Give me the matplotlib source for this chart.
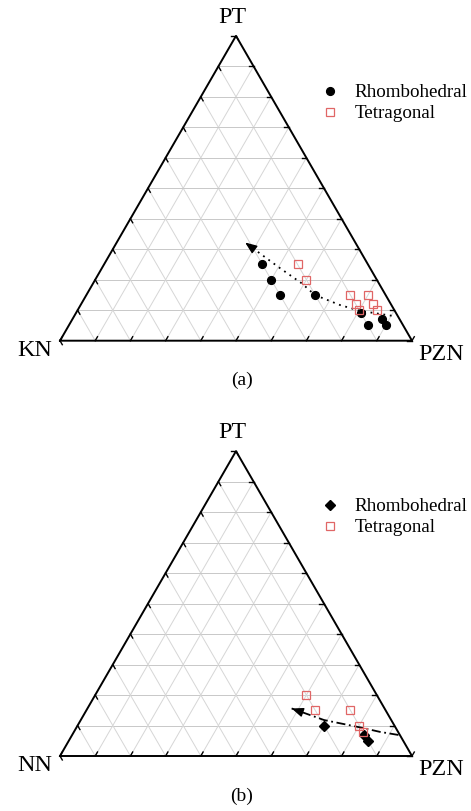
import numpy as np
import matplotlib.pyplot as plt

plt.rcParams['font.family'] = ['Liberation Serif', 'DejaVu Serif']

# ternary data: PT (top) and PZN (right) fractions, remainder is KN / NN
a_rh_pt = [0.25, 0.20, 0.15, 0.15, 0.09, 0.07, 0.05, 0.05]
a_rh_pzn = [0.45, 0.50, 0.55, 0.65, 0.81, 0.88, 0.85, 0.90]
a_te_pt = [0.25, 0.20, 0.15, 0.15, 0.12, 0.12, 0.10, 0.10]
a_te_pzn = [0.55, 0.60, 0.75, 0.80, 0.78, 0.83, 0.80, 0.85]

b_rh_pt = [0.10, 0.07, 0.05]
b_rh_pzn = [0.70, 0.83, 0.85]
b_te_pt = [0.20, 0.15, 0.15, 0.10, 0.08]
b_te_pzn = [0.60, 0.65, 0.75, 0.80, 0.82]

# trend arrows
a_path_pt = [0.082, 0.098, 0.117, 0.150, 0.188, 0.238, 0.322]
a_path_pzn = [0.901, 0.803, 0.737, 0.649, 0.593, 0.506, 0.365]
b_path_pt = [0.069, 0.079, 0.094, 0.118, 0.156]
b_path_pzn = [0.927, 0.870, 0.805, 0.691, 0.580]

vertex_a = ['PT', 'KN', 'PZN']
vertex_b = ['PT', 'NN', 'PZN']
legend_labels = ['Rhombohedral', 'Tetragonal']

H = np.sqrt(3) / 2
RED = '#e06666'


def tern(pt, pzn):
	pt = np.asarray(pt, float)
	pzn = np.asarray(pzn, float)
	return pzn + pt / 2, pt * H


def draw_frame(ax, names, tag):
	steps = np.linspace(0, 1, 11)
	# grid lines parallel to the three sides
	for s in steps[1:-1]:
		x, y = tern([s, s], [0, 1 - s])
		ax.plot(x, y, color='#c8c8c8', lw=0.7, zorder=1)
		x, y = tern([0, 1 - s], [s, s])
		ax.plot(x, y, color='#d6d6d6', lw=0.7, zorder=1)
		x, y = tern([0, 1 - s], [1 - s, 0])
		ax.plot(x, y, color='#d6d6d6', lw=0.7, zorder=1)
	# outline
	x, y = tern([0, 0, 1, 0], [0, 1, 0, 0])
	ax.plot(x, y, color='k', lw=1.4, zorder=3, solid_joinstyle='miter')
	# ticks pointing inward
	tl = 0.013
	for s in steps:
		# bottom edge, up-right
		x, y = tern(0, s)
		ax.plot([x, x + tl / 2], [y, y + tl * H], color='k', lw=1.0, zorder=3)
		# right edge, to the left
		x, y = tern(s, 1 - s)
		ax.plot([x, x - tl], [y, y], color='k', lw=1.0, zorder=3)
		# left edge, down-right
		x, y = tern(s, 0)
		ax.plot([x, x + tl / 2], [y, y - tl * H], color='k', lw=1.0, zorder=3)
	fs = 17.3
	ax.text(0.49, 1 * H + 0.052, names[0], ha='center', va='center', fontsize=fs)
	ax.text(-0.071, -0.028, names[1], ha='center', va='center', fontsize=fs)
	ax.text(1.082, -0.038, names[2], ha='center', va='center', fontsize=fs)
	ax.text(0.517, -0.114, tag, ha='center', va='center', fontsize=14)


def draw_arrow(ax, pt, pzn, ls):
	x, y = tern(pt, pzn)
	ax.plot(x, y, color='k', lw=1.3, linestyle=ls, zorder=4)
	d = np.array([x[-1] - x[-2], y[-1] - y[-2]])
	d = d / np.hypot(*d)
	ax.annotate('', xy=(x[-1], y[-1]), xytext=(x[-1] - 0.03 * d[0], y[-1] - 0.03 * d[1]),
		arrowprops=dict(arrowstyle='-|>,head_length=0.7,head_width=0.28', color='k',
			lw=1.0, shrinkA=0, shrinkB=0), zorder=5)


fig = plt.figure(figsize=(4.71, 8.11), dpi=100)

# panel (a)
ax1 = fig.add_axes([0, 406 / 811, 1, 405 / 811])
ax1.set_xlim(-60 / 352, 411 / 352)
ax1.set_ylim((340.7 - 405) / 352, 340.7 / 352)
ax1.axis('off')
draw_frame(ax1, vertex_a, '(a)')
draw_arrow(ax1, a_path_pt, a_path_pzn, (0, (1, 2.6)))
x, y = tern(a_rh_pt, a_rh_pzn)
ax1.plot(x, y, 'o', color='k', ms=5.6, zorder=6, label=legend_labels[0])
x, y = tern(a_te_pt, a_te_pzn)
ax1.plot(x, y, 's', mfc='none', mec=RED, mew=0.9, ms=5.2, zorder=7, label=legend_labels[1])
ax1.legend(loc='upper left', bbox_to_anchor=(320 / 471, (405 - 84) / 405),
	frameon=False, fontsize=13.7, handlelength=1.0, handletextpad=0.8,
	labelspacing=0.2, borderpad=0, borderaxespad=0)

# panel (b)
ax2 = fig.add_axes([0, 0, 1, 406 / 811])
ax2.set_xlim(-60 / 352, 411 / 352)
ax2.set_ylim((756 - 811) / 352, (756 - 405) / 352)
ax2.axis('off')
draw_frame(ax2, vertex_b, '(b)')
draw_arrow(ax2, b_path_pt, b_path_pzn, (0, (5, 2, 1, 2)))
x, y = tern(b_rh_pt, b_rh_pzn)
ax2.plot(x, y, 'D', color='k', ms=5.2, zorder=6, label=legend_labels[0])
x, y = tern(b_te_pt, b_te_pzn)
ax2.plot(x, y, 's', mfc='none', mec=RED, mew=0.9, ms=5.2, zorder=7, label=legend_labels[1])
ax2.legend(loc='upper left', bbox_to_anchor=(320 / 471, (811 - 498) / 406),
	frameon=False, fontsize=13.7, handlelength=1.0, handletextpad=0.8,
	labelspacing=0.2, borderpad=0, borderaxespad=0)

fig.savefig('out.png', dpi=100)
